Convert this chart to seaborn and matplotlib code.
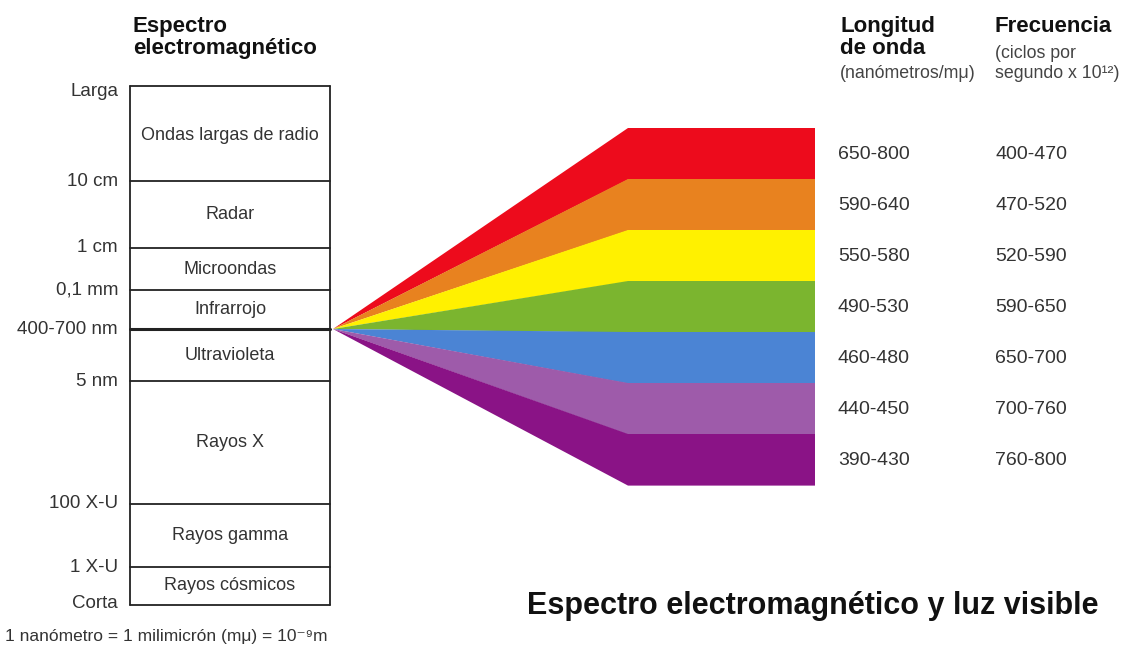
import matplotlib
matplotlib.use("Agg")
import matplotlib.pyplot as plt
import seaborn as sns

# espectro completo (columna izquierda)
scale_labels = ["Larga", "10 cm", "1 cm", "0,1 mm", "400-700 nm", "5 nm", "100 X-U", "1 X-U", "Corta"]
band_names = ["Ondas largas de radio", "Radar", "Microondas", "Infrarrojo",
              "Ultravioleta", "Rayos X", "Rayos gamma", "Rayos cósmicos"]

# luz visible
light_colors = ["#ED0B1C", "#E8821F", "#FFF100", "#7BB52F", "#4B84D4", "#9E5BAA", "#8A1386"]
wavelengths = ["650-800", "590-640", "550-580", "490-530", "460-480", "440-450", "390-430"]
frequencies = ["400-470", "470-520", "520-590", "590-650", "650-700", "700-760", "760-800"]

# maquetacion (pixeles de la figura)
scale_y = [86, 181, 248, 290, 329, 381, 504, 567, 605]
box_x0, box_x1 = 130, 330
apex = (333, 329)
fan_x1, fan_x2 = 628, 815
fan_top, fan_h = 128, 51

sns.set_style("white")
plt.rcParams["font.family"] = ["Liberation Sans", "DejaVu Sans"]

fig = plt.figure(figsize=(11.28, 6.55), dpi=100)
ax = fig.add_axes([0, 0, 1, 1])
ax.set_xlim(0, 1128)
ax.set_ylim(655, 0)
ax.axis("off")

txt = "#333333"
head = "#111111"

# caja del espectro
ax.plot([box_x0, box_x0], [scale_y[0], scale_y[-1]], color="#222222", lw=1.3)
ax.plot([box_x1, box_x1], [scale_y[0], scale_y[-1]], color="#222222", lw=1.3)
for i, (lab, y) in enumerate(zip(scale_labels, scale_y)):
    lw = 2.2 if lab == "400-700 nm" else 1.3
    ax.plot([box_x0, box_x1], [y, y], color="#222222", lw=lw)
    yy = y + 6 if i == 0 else (y - 2 if i == len(scale_labels) - 1 else y)
    ax.text(118, yy, lab, ha="right", va="center", fontsize=13.5, color=txt)

for name, y0, y1 in zip(band_names, scale_y[:-1], scale_y[1:]):
    yc = (y0 + y1) / 2
    if name == "Ondas largas de radio":
        yc = 136
    ax.text((box_x0 + box_x1) / 2, yc, name, ha="center", va="center", fontsize=13, color=txt)

ax.text(133, 32, "Espectro", ha="left", va="baseline", fontsize=16,
        fontweight="bold", color=head)
ax.text(133, 54, "electromagnético", ha="left", va="baseline", fontsize=16,
        fontweight="bold", color=head)

# abanico de luz visible
pal = sns.color_palette(light_colors)
for i, c in enumerate(pal):
    ya = fan_top + i * fan_h
    yb = ya + fan_h + 0.6
    ax.fill([apex[0], fan_x1, fan_x2, fan_x2, fan_x1], [apex[1], ya, ya, yb, yb],
            color=c, lw=0)
    yc = ya + fan_h / 2 + 1
    ax.text(838, yc, wavelengths[i], ha="left", va="center", fontsize=14, color=txt)
    ax.text(995, yc, frequencies[i], ha="left", va="center", fontsize=14, color=txt)

ax.text(840, 32, "Longitud", ha="left", va="baseline", fontsize=16, fontweight="bold", color=head)
ax.text(840, 54, "de onda", ha="left", va="baseline", fontsize=16, fontweight="bold", color=head)
ax.text(840, 73, "(nanómetros/mμ)", ha="left", va="center", fontsize=12.8, color="#444444")
ax.text(995, 32, "Frecuencia", ha="left", va="baseline", fontsize=16, fontweight="bold", color=head)
ax.text(995, 53, "(ciclos por", ha="left", va="center", fontsize=12.8, color="#444444")
ax.text(995, 73, "segundo x 10¹²)", ha="left", va="center", fontsize=12.8, color="#444444")

ax.text(527, 606, "Espectro electromagnético y luz visible", ha="left", va="center",
        fontsize=22, fontweight="bold", color=head)
ax.text(5, 637, "1 nanómetro = 1 milimicrón (mμ) = 10⁻⁹m", ha="left", va="center",
        fontsize=12.5, color=txt)

fig.savefig("out.png", dpi=100)
